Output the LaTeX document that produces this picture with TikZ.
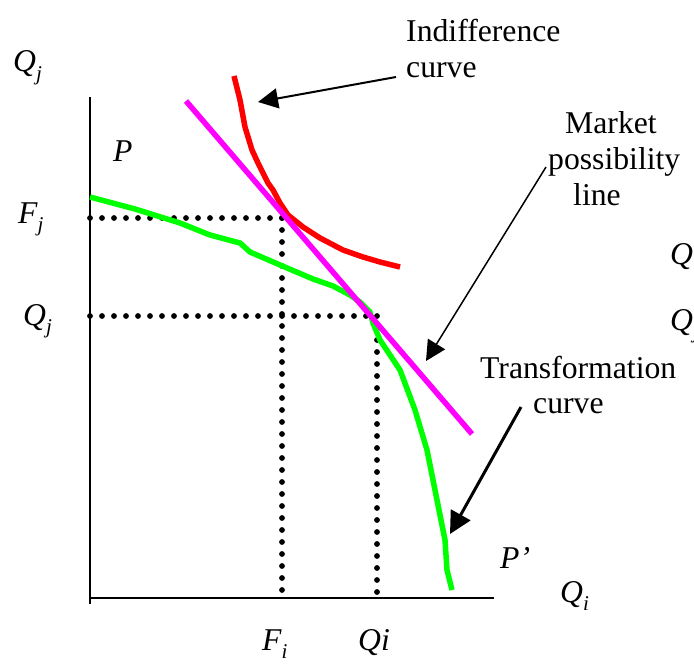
\documentclass[tikz,border=0pt]{standalone}
\usepackage{fontspec}
\setmainfont{Liberation Serif}
\newfontfamily\labelfont{Liberation Serif}
\usetikzlibrary{arrows.meta,decorations.markings}
\definecolor{curvered}{RGB}{255,0,0}
\definecolor{curvegreen}{RGB}{0,255,0}
\definecolor{curvemagenta}{RGB}{255,0,255}
\newcommand{\lowsub}[1]{\raisebox{-0.28em}{\fontsize{21}{21}\selectfont\itshape #1}}
\begin{document}
\begin{tikzpicture}[x=1pt,y=-1pt,
  lbl/.style={inner sep=0pt, anchor=base west, font=\labelfont\fontsize{31.7}{36}\selectfont},
  ilbl/.style={lbl, font=\labelfont\fontsize{31.7}{36}\selectfont\itshape},
  axisline/.style={line width=2pt, black},
  dotline/.style={decoration={markings, mark=between positions 0 and 1 step 12pt with {\fill[black] (0,0) circle (2.9pt);}}, decorate},
  curvestyle/.style={line width=5.5pt, line join=round},
  pointer/.style={black, -{Triangle[length=20pt,width=20pt]}}
]
\path[use as bounding box] (0,0) rectangle (694,666);

% axes
\coordinate (ytop) at (90,97);
\coordinate (ybot) at (90,604);
\coordinate (orig) at (90,598);
\coordinate (xend) at (494,598);
\draw[axisline] (ytop) -- (ybot);
\draw[axisline] (orig) -- (xend);

% dotted guides
\coordinate (fj) at (90,218);
\coordinate (fpt) at (282,218);
\coordinate (fi) at (282,598);
\coordinate (qj) at (90,316);
\coordinate (qpt) at (377,316);
\coordinate (qi) at (377,598);
\path[dotline] (fj) -- (fpt);
\path[dotline] (fpt) -- (fi);
\path[dotline] (qj) -- (qpt);
\path[dotline] (qpt) -- (qi);

% transformation curve (green)
\draw[curvestyle, curvegreen] (90,197) -- (135,209) -- (180,223) -- (210,235) -- (240,243)
  -- (250,252) -- (280,265) -- (313,279) -- (333,286) -- (350,295) -- (360,302)
  -- (370,312) -- (373,323) -- (380,340) -- (400,370) -- (415,410) -- (427,450)
  -- (437,500) -- (445,540) -- (447,570) -- (452,590);

% indifference curve (red)
\draw[curvestyle, curvered] (234,76) -- (240,100) -- (245,127) -- (252,150) -- (258,163)
  -- (263,173) -- (268,183) -- (273,190) -- (280,203) -- (288,215) -- (303,227)
  -- (320,238) -- (343,250) -- (363,257) -- (380,262) -- (400,267);

% market possibility line (magenta)
\coordinate (m1) at (186,101);
\coordinate (m2) at (472,434);
\draw[curvestyle, curvemagenta] (m1) -- (m2);

% labels
\node[ilbl] (lQjtop) at (13,72) {Q\lowsub{j}};
\node[ilbl] (lP) at (113,162) {P};
\node[ilbl] (lFj) at (18,223) {F\lowsub{j}};
\node[ilbl] (lQj) at (23,325) {Q\lowsub{j}};
\node[ilbl] (lFi) at (262,650) {F\lowsub{i}};
\node[ilbl] (lQi) at (358,650) {Qi};
\node[ilbl] (lPp) at (500,568) {P’};
\node[ilbl] (lQiax) at (560,602) {Q\lowsub{i}};

\begin{scope}
\clip (0,0) rectangle (694,666);
\node[ilbl] (lQr1) at (670,265) {Q\lowsub{i}};
\node[ilbl] (lQr2) at (670,330) {Q\lowsub{j}};
\end{scope}

\node[lbl] (ind1) at (406,42) {Indifference};
\node[lbl] (ind2) at (406,78) {curve};
\node[lbl] (mk1) at (565,134) {Market};
\node[lbl] (mk2) at (548,170) {possibility};
\node[lbl] (mk3) at (573,206) {line};
\node[lbl] (tr1) at (480,378) {Transformation};
\node[lbl] (tr2) at (533,413) {curve};

% pointers
\coordinate (indA) at (396,77);
\coordinate (indB) at (258,102);
\draw[pointer, line width=2pt] (indA) -- (indB);
\coordinate (mkA) at (546,167);
\coordinate (mkB) at (426,361);
\draw[pointer, line width=1.5pt] (mkA) -- (mkB);
\coordinate (trA) at (521,407);
\coordinate (trB) at (450,534);
\draw[pointer, line width=3pt, -{Triangle[length=22pt,width=22pt]}] (trA) -- (trB);
\end{tikzpicture}
\end{document}
